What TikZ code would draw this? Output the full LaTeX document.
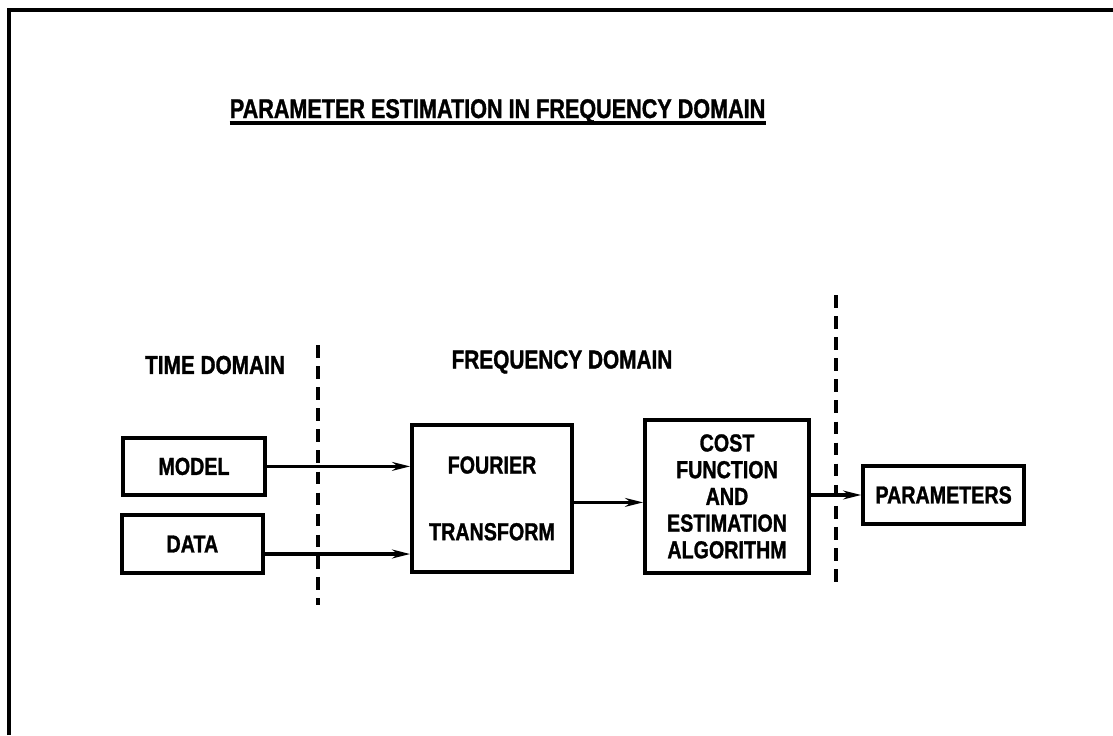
\documentclass[tikz,border=0pt]{standalone}
\usepackage{fontspec}
\setmainfont[FakeStretch=0.8, BoldFeatures={FakeBold=1.2}]{Liberation Sans}
\usetikzlibrary{arrows.meta}
\tikzstyle{block} = [rectangle, draw=black, line width=2.6pt, text centered, font=\bfseries\fontsize{17.5}{19}\selectfont]
\tikzstyle{heading} = [font=\bfseries\fontsize{18.5}{22}\selectfont]
\tikzstyle{arrow} = [line width=2.3pt, -{Stealth[length=4.5mm,width=2.2mm]}]
\tikzstyle{divider} = [line width=2.6pt, dash pattern=on 9pt off 6pt]

\begin{document}
\begin{tikzpicture}
\useasboundingbox (0,0) rectangle (27.825,-18.375);

% frame of the scanned page
\draw [line width=3pt] (0.225,-18.375) -- (0.225,-0.25) -- (27.825,-0.25);

\node (title) [heading, font=\bfseries\fontsize{19.2}{22}\selectfont, anchor=base, inner sep=0] at (12.44,-2.95) {PARAMETER ESTIMATION IN FREQUENCY DOMAIN};
\draw [line width=2.4pt] ([yshift=-0.125cm]title.base west) -- ([yshift=-0.125cm]title.base east);

\node (time) [heading] at (5.375,-9.125) {TIME DOMAIN};
\node (freq) [heading] at (14.05,-9.05) {FREQUENCY DOMAIN};

\node (model) [block, minimum width=3.55cm, minimum height=1.425cm] at (4.85,-11.66) {MODEL};
\node (data) [block, minimum width=3.525cm, minimum height=1.45cm] at (4.81,-13.6) {DATA};
\node (fourier) [block, minimum width=4cm, minimum height=3.675cm, align=center] at (12.3,-12.46) {FOURIER\\[1cm]TRANSFORM};
\node (cost) [block, minimum width=4.1cm, minimum height=3.825cm, align=center] at (18.175,-12.41) {COST\\FUNCTION\\AND\\ESTIMATION\\ALGORITHM};
\node (params) [block, minimum width=4.025cm, minimum height=1.45cm] at (23.59,-12.375) {PARAMETERS};

% domain borders
\coordinate (cutonetop) at (7.95,-8.625);
\coordinate (cutonebot) at (7.95,-15.125);
\coordinate (cuttwotop) at (20.9,-7.375);
\coordinate (cuttwobot) at (20.9,-14.55);
\draw [divider] (cutonetop) -- (cutonebot);
\draw [divider] (cuttwotop) -- (cuttwobot);

\draw [arrow] (model.east) -- (model.east -| fourier.west);
\draw [arrow] ([yshift=-0.25cm]data.east) -- ([yshift=-0.25cm]data.east -| fourier.west);
\draw [arrow] ([yshift=-0.1cm]fourier.east) -- ([yshift=-0.1cm]fourier.east -| cost.west);
\draw [arrow] (params.west -| cost.east) -- (params.west);

\end{tikzpicture}
\end{document}
